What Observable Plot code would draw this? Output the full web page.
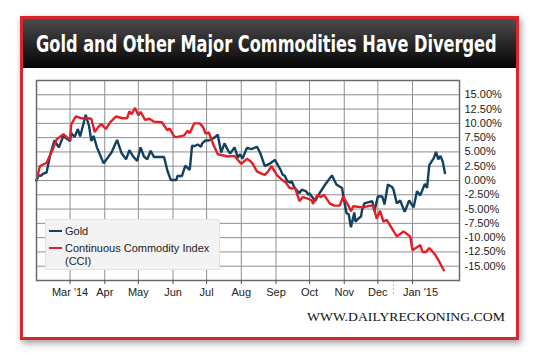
<!DOCTYPE html>
<html><head><meta charset="utf-8">
<script src="https://cdn.jsdelivr.net/npm/d3@7"></script>
<script src="https://cdn.jsdelivr.net/npm/@observablehq/plot@0.6"></script>
<style>
html,body{margin:0;padding:0;background:#fff;width:540px;height:357px;overflow:hidden;font-family:"Liberation Sans",Arial,sans-serif;}
#card{position:absolute;left:20px;top:16px;width:493px;height:318px;border:3px solid #d7262e;background:#fff;box-shadow:2px 3px 7px rgba(0,0,0,0.4);}
#bar{position:absolute;left:0;top:0;width:493px;height:49px;background:linear-gradient(#4d4d4d,#2b2b2b 45%,#050505);}
#chart{position:absolute;left:0;top:0;}
#overlay{position:absolute;left:0;top:0;}
#legend{position:absolute;left:45px;top:219px;width:175px;height:51px;background:#f3f3f3;border:1px solid #e2e2e2;box-sizing:border-box;font-size:11px;color:#222;}
#legend .sw{position:absolute;left:3px;width:13px;height:2px;}
#legend .lb{position:absolute;left:19px;line-height:12px;white-space:nowrap;}
</style></head>
<body>
<div id="card"><div id="bar"></div></div>
<div id="chart"></div>
<svg id="overlay" width="540" height="357">
  <text id="title" x="0" y="0" fill="#fff" font-family="Liberation Sans Narrow, DejaVu Sans Condensed, Liberation Sans, sans-serif" font-weight="bold" font-size="23">Gold and Other Major Commodities Have Diverged</text>
  <text id="footer" x="0" y="0" font-family="Liberation Serif, DejaVu Serif, serif" font-size="11.5" fill="#111">WWW.DAILYRECKONING.COM</text>
</svg>
<div id="legend"></div>
<script>
const goldDates = ["2014-01-30","2014-02-01","2014-02-03","2014-02-05","2014-02-08","2014-02-11","2014-02-15","2014-02-19","2014-02-23","2014-03-01","2014-03-02","2014-03-05","2014-03-08","2014-03-10","2014-03-15","2014-03-18","2014-03-20","2014-03-22","2014-03-25","2014-03-31","2014-04-07","2014-04-12","2014-04-16","2014-04-20","2014-04-23","2014-04-26","2014-04-30","2014-05-03","2014-05-06","2014-05-09","2014-05-12","2014-05-15","2014-05-24","2014-05-27","2014-05-30","2014-06-04","2014-06-05","2014-06-09","2014-06-12","2014-06-15","2014-06-16","2014-06-18","2014-06-20","2014-06-23","2014-06-26","2014-06-27","2014-06-30","2014-07-03","2014-07-08","2014-07-11","2014-07-14","2014-07-17","2014-07-20","2014-07-22","2014-07-26","2014-07-29","2014-07-31","2014-08-02","2014-08-06","2014-08-10","2014-08-15","2014-08-18","2014-08-22","2014-08-26","2014-08-31","2014-09-05","2014-09-07","2014-09-09","2014-09-11","2014-09-14","2014-09-15","2014-09-17","2014-09-19","2014-09-22","2014-09-24","2014-09-28","2014-09-30","2014-10-01","2014-10-03","2014-10-06","2014-10-09","2014-10-15","2014-10-21","2014-10-25","2014-10-30","2014-10-31","2014-11-03","2014-11-05","2014-11-07","2014-11-10","2014-11-11","2014-11-14","2014-11-16","2014-11-17","2014-11-19","2014-11-26","2014-11-28","2014-12-01","2014-12-05","2014-12-07","2014-12-10","2014-12-14","2014-12-15","2014-12-18","2014-12-21","2014-12-25","2014-12-29","2015-01-02","2015-01-05","2015-01-08","2015-01-12","2015-01-14","2015-01-16","2015-01-20","2015-01-22","2015-01-24","2015-01-26","2015-01-28","2015-01-30"];
const goldPct = [0.0,0.9,0.8,1.2,1.4,4.3,7.0,5.8,7.8,6.9,8.3,7.6,9.0,7.7,11.5,9.5,6.9,7.8,5.8,3.0,4.9,7.1,4.8,3.7,5.3,4.3,3.4,5.8,4.2,3.7,5.2,4.1,4.1,1.7,0.1,0.1,0.8,0.8,2.6,2.0,1.9,6.1,6.0,6.3,5.9,6.5,7.0,7.0,7.5,8.0,4.9,6.5,5.3,4.7,5.8,4.0,4.6,3.8,5.7,5.5,5.9,4.8,2.5,2.9,3.6,1.9,1.0,0.8,-0.1,-0.4,-0.1,-1.0,-1.6,-2.2,-1.6,-1.9,-2.5,-2.2,-2.8,-3.6,-2.5,-0.7,0.9,-0.7,-1.3,-2.5,-5.7,-5.9,-8.2,-5.6,-7.2,-6.6,-6.3,-5.1,-4.0,-3.6,-5.4,-2.8,-2.8,-4.2,-0.7,-1.2,-1.6,-4.0,-3.5,-5.5,-3.5,-4.7,-1.9,-2.6,-0.6,-1.3,2.7,3.9,5.0,3.7,4.3,3.3,1.3];

const cciDates = ["2014-01-30","2014-02-02","2014-02-05","2014-02-08","2014-02-13","2014-02-17","2014-02-23","2014-03-01","2014-03-02","2014-03-06","2014-03-11","2014-03-17","2014-03-20","2014-03-23","2014-03-26","2014-03-29","2014-04-02","2014-04-06","2014-04-11","2014-04-17","2014-04-21","2014-04-23","2014-04-25","2014-04-28","2014-05-01","2014-05-03","2014-05-07","2014-05-11","2014-05-15","2014-05-22","2014-05-27","2014-05-29","2014-06-02","2014-06-04","2014-06-11","2014-06-14","2014-06-16","2014-06-20","2014-06-25","2014-06-28","2014-06-30","2014-07-03","2014-07-07","2014-07-11","2014-07-20","2014-07-26","2014-08-01","2014-08-06","2014-08-09","2014-08-11","2014-08-15","2014-08-19","2014-08-22","2014-08-25","2014-08-28","2014-09-02","2014-09-06","2014-09-10","2014-09-13","2014-09-15","2014-09-18","2014-09-22","2014-09-25","2014-09-30","2014-10-03","2014-10-04","2014-10-08","2014-10-11","2014-10-14","2014-10-19","2014-10-23","2014-10-28","2014-10-31","2014-11-05","2014-11-07","2014-11-09","2014-11-18","2014-11-24","2014-11-27","2014-11-30","2014-12-03","2014-12-06","2014-12-09","2014-12-14","2014-12-18","2014-12-24","2014-12-30","2015-01-01","2015-01-08","2015-01-10","2015-01-13","2015-01-16","2015-01-21","2015-01-24","2015-01-29"];
const cciPct = [0.0,2.5,2.8,3.1,5.2,7.2,8.1,7.1,9.8,11.2,10.9,10.9,10.8,8.5,9.3,9.9,9.0,10.2,11.2,10.9,10.9,12.1,11.6,12.7,11.4,12.0,10.6,10.8,10.3,10.2,8.8,9.1,7.7,7.6,7.9,8.7,8.3,10.0,10.0,9.3,8.2,8.4,6.3,4.6,4.2,4.3,2.9,3.8,3.4,3.0,1.6,1.2,1.0,1.6,2.5,0.9,0.2,-0.4,-1.3,-1.4,-1.3,-3.6,-2.9,-3.2,-3.5,-4.1,-2.5,-2.9,-2.5,-4.0,-4.4,-4.4,-2.8,-4.5,-5.4,-4.5,-4.7,-4.4,-4.4,-6.7,-5.3,-7.2,-6.9,-8.5,-9.8,-8.9,-9.8,-12.2,-11.3,-12.5,-12.5,-11.8,-12.9,-13.9,-15.7];

const seriesNames = ["Gold", "Continuous Commodity Index\n(CCI)"];
const seriesColors = ["#14405f", "#e21f26"];

const monthTicks = ["2014-03-01","2014-04-01","2014-05-01","2014-06-01","2014-07-01","2014-08-01","2014-09-01","2014-10-01","2014-11-01","2014-12-01","2015-01-01"];
const monthLabels = ["Mar '14","Apr","May","Jun","Jul","Aug","Sep","Oct","Nov","Dec","Jan '15"];
const yTicks = [15,12.5,10,7.5,5,2.5,0,-2.5,-5,-7.5,-10,-12.5,-15];
const yearMarker = ["2014-12-15"];

const gold = goldDates.map((d,i)=>({date:new Date(d), value:goldPct[i]}));
const cci = cciDates.map((d,i)=>({date:new Date(d), value:cciPct[i]}));
const tickDates = monthTicks.map(d=>new Date(d));
const labelOf = new Map(tickDates.map((d,i)=>[+d, monthLabels[i]]));
const lastTick = tickDates[tickDates.length-1];

const chart = Plot.plot({
  width: 540, height: 357,
  marginLeft: 36, marginRight: 81, marginTop: 80, marginBottom: 77,
  style: {background: "transparent", fontFamily: "Liberation Sans, Arial, sans-serif", fontSize: "11px", color: "#222"},
  x: {type: "utc", domain: [new Date("2014-01-30"), new Date("2015-02-12")], label: null},
  y: {domain: [-17.5, 17.5], label: null},
  marks: [
    Plot.gridX(tickDates, {stroke: "#8e8e8e", strokeOpacity: 1, strokeWidth: 1}),
    Plot.gridY(yTicks, {stroke: "#8e8e8e", strokeOpacity: 1, strokeWidth: 1}),
    Plot.ruleX(yearMarker.map(d=>new Date(d)), {x: d=>d, y1: -17.5, y2: -20.2, stroke: "#bbb", strokeDasharray: "2,2"}),
    Plot.line(gold, {x: "date", y: "value", stroke: seriesColors[0], strokeWidth: 2.4, strokeLinejoin: "miter"}),
    Plot.line(cci, {x: "date", y: "value", stroke: seriesColors[1], strokeWidth: 2.4, strokeLinejoin: "miter"}),
    Plot.frame({stroke: "#6a6a6a", strokeWidth: 1.5}),
    Plot.axisY(yTicks, {anchor: "right", label: null, tickSize: 0, tickPadding: 5, textAnchor: "start", tickFormat: d => d.toFixed(2) + "%", fill: "#222"}),
    Plot.axisX(tickDates, {anchor: "bottom", label: null, tickSize: 4, tickPadding: 4, stroke: "#555", fill: "#222", tickFormat: d => +d === +lastTick ? "" : labelOf.get(+d)}),
    Plot.text([lastTick], {x: d=>d, frameAnchor: "bottom", lineAnchor: "top", dy: 8, dx: 8, text: d => labelOf.get(+d), fill: "#222"})
  ]
});
document.getElementById("chart").appendChild(chart);

// fit title and footer text to their measured widths in the reference
function fit(el, x, y, w, anchorEnd) {
  const nat = el.getComputedTextLength();
  const s = w / nat;
  const x0 = anchorEnd ? x - w : x;
  el.setAttribute("transform", `translate(${x0},${y}) scale(${s},1)`);
}
fit(document.getElementById("title"), 36, 52, 461, false);
fit(document.getElementById("footer"), 505, 321, 198, true);

const legend = document.getElementById("legend");
const rows = [{sw: 10, lb: 5}, {sw: 27, lb: 22}];
seriesNames.forEach((name, i) => {
  const sw = document.createElement("div");
  sw.className = "sw"; sw.style.top = rows[i].sw + "px"; sw.style.background = seriesColors[i];
  legend.appendChild(sw);
  name.split("\n").forEach((line, j) => {
    const lb = document.createElement("div");
    lb.className = "lb"; lb.style.top = (rows[i].lb + j * 12.5) + "px"; lb.textContent = line;
    legend.appendChild(lb);
  });
});
</script>
</body></html>
